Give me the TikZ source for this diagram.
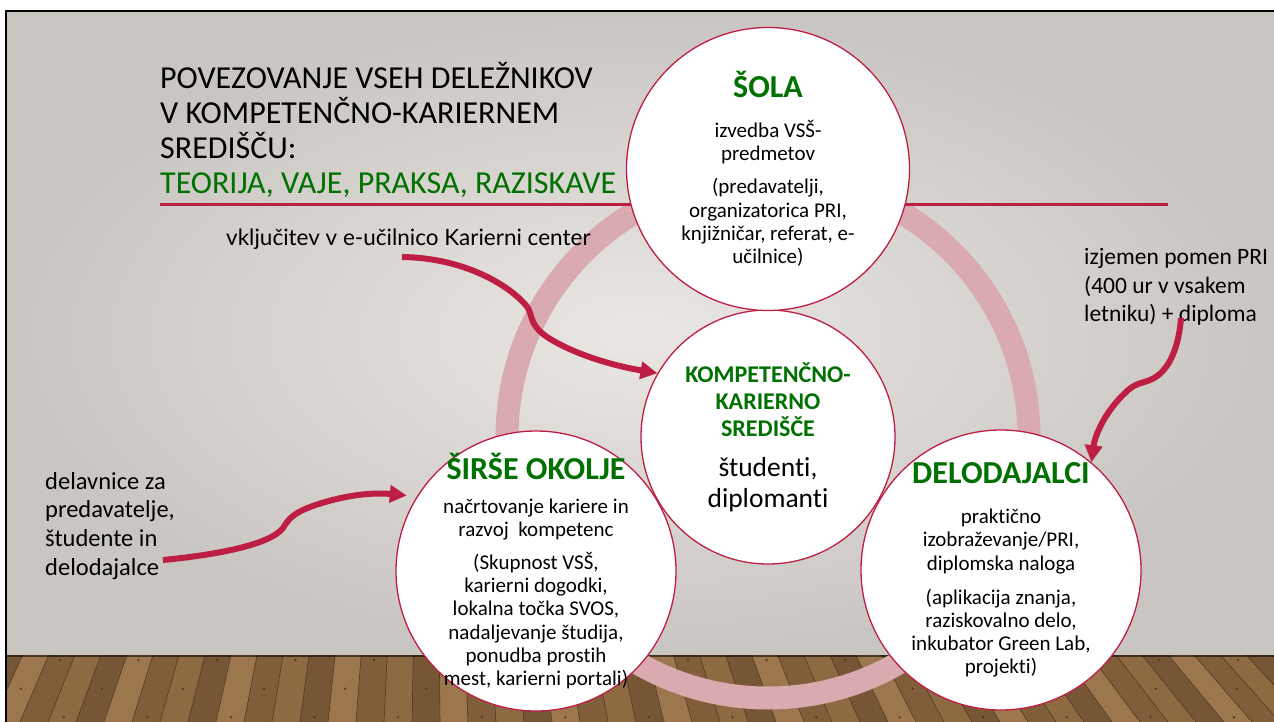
\documentclass[tikz,border=0pt]{standalone}
\usepackage{fontspec}
\setmainfont{Carlito}[Ligatures=NoCommon]
\newfontfamily\gillfont{Lato}
\usetikzlibrary{arrows.meta,calc}
\definecolor{crimson}{RGB}{190,30,68}
\definecolor{kgreen}{RGB}{0,112,0}
\definecolor{ringpink}{RGB}{217,170,176}
\definecolor{wallin}{RGB}{234,231,227}
\definecolor{wallout}{RGB}{201,198,193}
\definecolor{wood0}{RGB}{142,106,66}
\definecolor{wood1}{RGB}{128,94,58}
\definecolor{wood2}{RGB}{156,119,77}
\definecolor{wood3}{RGB}{118,86,53}
\definecolor{woodline}{RGB}{80,58,35}
\newcommand\glava[1]{{\fontsize{32}{32}\selectfont\bfseries\color{kgreen}#1}}
\tikzset{
  krog/.style={circle,draw=crimson,line width=1.3pt,fill=white,minimum size=#1,inner sep=0pt},
  besedilo/.style={align=center,inner sep=0pt,font=\fontsize{21}{23.3}\selectfont},
  opomba/.style={align=left,inner sep=0pt,font=\fontsize{24.5}{28.7}\selectfont},
  naslov/.style={align=left,inner sep=0pt,font=\fontsize{32}{35}\selectfont},
  puscica/.style={crimson,line width=6pt,-{Triangle[length=17pt,width=17pt]}}
}
\begin{document}
\begin{tikzpicture}[x=1pt,y=-1pt]
  \useasboundingbox (0,0) rectangle (1274,722);
  \fill[white] (0,0) rectangle (1274,722);
  % wall
  \shade[inner color=wallin,outer color=wallout] (7,12) rectangle (1274,656);
  % floor
  \begin{scope}
    \clip (7,655) rectangle (1274,722);
    \fill[wood0] (7,655) rectangle (1274,722);
    \foreach \i in {0,...,64}{
      \pgfmathtruncatemacro\k{mod(\i*7,4)}
      \fill[wood\k] (430,-230) -- ({-400+\i*28},722) -- ({-372+\i*28},722) -- cycle;
      \draw[woodline,line width=0.6pt] (430,-230) -- ({-400+\i*28},722);
    }
    \foreach \i in {0,...,64}{
      \pgfmathsetmacro\t{0.935+0.03*mod(\i*5,3)}
      \fill[woodline] ($(430,-230)!\t!({-386+\i*28},722)$) circle[radius=1.3];
    }
    \fill[black,opacity=0.55] (7,654) rectangle (1274,657);
  \end{scope}
  \draw[line width=2pt] (6,722) -- (6,11) -- (1274,11);
  % ring
  \coordinate (hub) at (768,437);
  \draw[ringpink,line width=23pt] (hub) circle[radius=261];
  \draw[crimson,line width=3pt] (160,205) -- (1168,205);
  % circles
  \node[krog=280] (okolje) at (536,571) {};
  \node[krog=280] (delo) at (1001,570) {};
  \node[krog=254] (kc) at (hub) {};
  \node[krog=283] (sola) at (768,169) {};
  \node[besedilo] at (sola) {\glava{ŠOLA}\\[16.7pt]izvedba VSŠ-\\predmetov\\[9.7pt](predavatelji,\\organizatorica PRI,\\knjižničar, referat, e-\\učilnice)};
  \node[besedilo,font=\fontsize{24}{27}\selectfont] at (kc) {{\bfseries\color{kgreen}KOMPETENČNO-}\\{\bfseries\color{kgreen}KARIERNO}\\{\bfseries\color{kgreen}SREDIŠČE}\\[13pt]{\fontsize{27.5}{31}\selectfont študenti,}\\[4pt]{\fontsize{27.5}{31}\selectfont diplomanti}};
  \node[besedilo] at (okolje) {\glava{ŠIRŠE OKOLJE}\\[10.7pt]načrtovanje kariere in\\razvoj\ \ kompetenc\\[9.7pt](Skupnost VSŠ,\\karierni dogodki,\\lokalna točka SVOS,\\nadaljevanje študija,\\ponudba prostih\\mest, karierni portali)};
  \node[besedilo] at (delo) {\glava{DELODAJALCI}\\[16.7pt]praktično\\izobraževanje/PRI,\\diplomska naloga\\[10.7pt](aplikacija znanja,\\raziskovalno delo,\\inkubator Green Lab,\\projekti)};
  % labels
  \node[naslov,anchor=north west] (title) at (160,62) {POVEZOVANJE VSEH DELEŽNIKOV\\V KOMPETENČNO-KARIERNEM\\SREDIŠČU:\\\textcolor{kgreen}{TEORIJA, VAJE, PRAKSA, RAZISKAVE}};
  \node[anchor=base west,inner sep=0pt,font=\gillfont\fontsize{22.5}{26}\selectfont] (ucilnica) at (226,245) {vključitev v e-učilnico Karierni center};
  \node[opomba,anchor=north west] (delavnice) at (45,472) {delavnice za\\predavatelje,\\študente in\\delodajalce};
  \node[opomba,anchor=north west,font=\fontsize{23.5}{28.7}\selectfont] (pomen) at (1084,248) {izjemen pomen PRI\\(400 ur v vsakem\\letniku) + diploma};
  % arrows
  \coordinate (a1) at (402,257);
  \coordinate (a2) at (163,560);
  \coordinate (a3) at (1181,318);
  \draw[puscica] (a1) .. controls (470,258) and (515,290) .. (528,308) .. controls (533,318) and (530,325) .. (547,337) .. controls (575,355) and (615,366) .. (kc.150);
  \draw[puscica,shorten >=10pt] (a2) .. controls (215,555) and (270,545) .. (283,528) .. controls (288,520) and (292,514) .. (310,507) .. controls (340,496) and (370,492) .. (okolje.148);
  \draw[puscica] (a3) .. controls (1179,345) and (1170,372) .. (1150,380) .. controls (1140,384) and (1135,383) .. (1125,393) .. controls (1105,412) and (1095,435) .. (delo.50);
\end{tikzpicture}
\end{document}
